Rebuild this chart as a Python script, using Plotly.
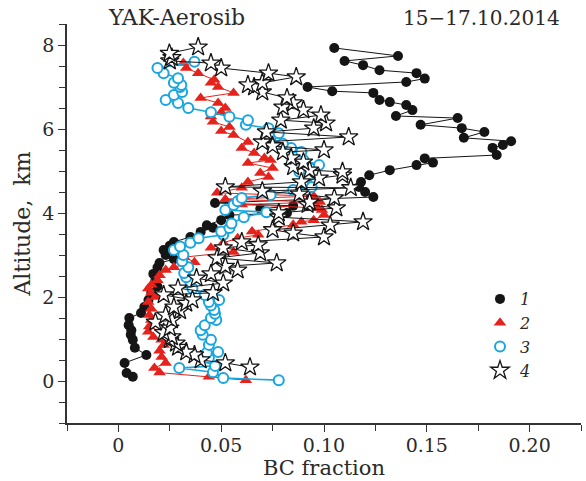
import plotly.graph_objects as go

# Series 1 (black dots): altitude (km), BC fraction
alt1 = [0.10, 0.19, 0.43, 0.62, 0.79, 0.98, 1.10, 1.21, 1.33, 1.50, 1.62, 1.76, 1.93, 2.10, 2.25, 2.40,
        2.55, 2.70, 2.81, 2.90, 3.00, 3.12, 3.22, 3.31, 3.43, 3.55, 3.65, 3.71, 3.83, 3.95, 4.00, 4.10,
        4.17, 4.24, 4.38, 4.50, 4.62, 4.74, 4.90, 5.02, 5.14, 5.20, 5.30, 5.38, 5.55, 5.62, 5.71, 5.79,
        5.93, 6.02, 6.10, 6.26, 6.31, 6.45, 6.57, 6.64, 6.69, 6.86, 6.90, 7.00, 7.12, 7.20, 7.33, 7.40,
        7.52, 7.62, 7.74, 7.93]
bc1 = [0.007, 0.004, 0.003, 0.0136, 0.008, 0.007, 0.006, 0.0063, 0.005, 0.0053, 0.011, 0.0126, 0.0146, 0.016,
       0.019, 0.018, 0.017, 0.019, 0.020, 0.027, 0.023, 0.022, 0.025, 0.027, 0.035, 0.040, 0.046, 0.043,
       0.050, 0.054, 0.082, 0.069, 0.085, 0.047, 0.124, 0.120, 0.117, 0.118, 0.122, 0.132, 0.145, 0.153,
       0.149, 0.184, 0.182, 0.187, 0.191, 0.168, 0.178, 0.167, 0.147, 0.165, 0.135, 0.143, 0.140, 0.132,
       0.127, 0.124, 0.104, 0.092, 0.140, 0.149, 0.145, 0.127, 0.119, 0.110, 0.136, 0.105]

# Series 2 (red triangles)
alt2 = [0.02, 0.10, 0.20, 0.31, 0.43, 0.57, 0.72, 0.86, 0.98, 1.05, 1.17, 1.30, 1.45, 1.57, 1.72, 1.88,
        2.00, 2.10, 2.20, 2.29, 2.40, 2.52, 2.64, 2.71, 2.83, 2.95, 3.07, 3.17, 3.29, 3.40, 3.48, 3.56,
        3.64, 3.72, 3.79, 3.83, 3.95, 4.07, 4.12, 4.20, 4.26, 4.33, 4.40, 4.48, 4.60, 4.74, 4.86, 4.95,
        5.07, 5.19, 5.26, 5.31, 5.43, 5.55, 5.69, 5.86, 5.95, 6.05, 6.17, 6.30, 6.40, 6.50, 6.62, 6.74,
        6.86, 7.00, 7.10, 7.17, 7.33, 7.45, 7.57]
bc2 = [0.062, 0.044, 0.020, 0.0175, 0.023, 0.021, 0.020, 0.022, 0.021, 0.017, 0.0145, 0.015, 0.016, 0.015,
       0.016, 0.0145, 0.018, 0.016, 0.0145, 0.016, 0.019, 0.020, 0.023, 0.027, 0.037, 0.032, 0.056, 0.045,
       0.051, 0.058, 0.068, 0.065, 0.076, 0.085, 0.089, 0.095, 0.100, 0.099, 0.097, 0.060, 0.098, 0.052,
       0.095, 0.048, 0.060, 0.063, 0.073, 0.069, 0.075, 0.063, 0.074, 0.071, 0.066, 0.060, 0.063, 0.056,
       0.050, 0.054, 0.046, 0.045, 0.050, 0.052, 0.0485, 0.040, 0.056, 0.0485, 0.045, 0.0466, 0.0388,
       0.033, 0.0316]

# Series 3 (blue open circles)
alt3 = [0.02, 0.07, 0.21, 0.31, 0.36, 0.55, 0.67, 0.69, 0.86, 0.98, 1.10, 1.21, 1.33, 1.45, 1.50, 1.60,
        1.69, 1.80, 1.88, 1.93, 2.05, 2.20, 2.36, 2.47, 2.57, 2.71, 2.85, 3.00, 3.12, 3.20, 3.29, 3.40,
        3.48, 3.56, 3.64, 3.75, 3.90, 4.02, 4.07, 4.19, 4.28, 4.36, 4.43, 4.55, 4.62, 4.75, 4.87, 4.98,
        5.07, 5.14, 5.26, 5.35, 5.45, 5.55, 5.65, 5.79, 5.90, 6.02, 6.10, 6.21, 6.29, 6.40, 6.50, 6.62,
        6.69, 6.81, 6.88, 7.00, 7.05, 7.10, 7.21, 7.33, 7.45, 7.60]
bc3 = [0.078, 0.051, 0.046, 0.0296, 0.047, 0.044, 0.043, 0.0485, 0.044, 0.045, 0.041, 0.040, 0.042, 0.0476,
       0.045, 0.047, 0.0466, 0.045, 0.044, 0.049, 0.042, 0.036, 0.035, 0.033, 0.032, 0.034, 0.031, 0.0316,
       0.027, 0.030, 0.035, 0.039, 0.051, 0.050, 0.054, 0.055, 0.061, 0.072, 0.052, 0.056, 0.058, 0.060,
       0.074, 0.085, 0.094, 0.090, 0.092, 0.088, 0.093, 0.0976, 0.090, 0.087, 0.089, 0.084, 0.080, 0.074,
       0.078, 0.073, 0.062, 0.063, 0.054, 0.045, 0.034, 0.029, 0.023, 0.027, 0.031, 0.030, 0.0306, 0.027,
       0.029, 0.022, 0.019, 0.037]

# Series 4 (open stars)
alt4 = [0.33, 0.43, 0.50, 0.62, 0.69, 0.80, 0.90, 0.98, 1.05, 1.15, 1.26, 1.40, 1.45, 1.57, 1.67, 1.76,
        1.85, 1.93, 2.05, 2.10, 2.21, 2.33, 2.45, 2.55, 2.64, 2.73, 2.81, 2.93, 3.05, 3.17, 3.24, 3.31,
        3.43, 3.52, 3.60, 3.71, 3.79, 3.90, 4.00, 4.12, 4.20, 4.26, 4.36, 4.45, 4.52, 4.60, 4.62, 4.74,
        4.83, 4.90, 4.98, 5.02, 5.10, 5.21, 5.31, 5.45, 5.50, 5.60, 5.69, 5.81, 5.93, 6.02, 6.14, 6.21,
        6.33, 6.45, 6.52, 6.62, 6.74, 6.88, 7.00, 7.05, 7.10, 7.24, 7.33, 7.45, 7.57, 7.62, 7.70, 7.80,
        7.95]
bc4 = [0.064, 0.052, 0.040, 0.037, 0.033, 0.029, 0.028, 0.025, 0.026, 0.022, 0.025, 0.018, 0.026, 0.023,
       0.030, 0.027, 0.033, 0.036, 0.022, 0.046, 0.029, 0.051, 0.038, 0.045, 0.058, 0.052, 0.077, 0.048,
       0.069, 0.051, 0.068, 0.060, 0.100, 0.085, 0.075, 0.103, 0.119, 0.078, 0.078, 0.106, 0.092, 0.093,
       0.105, 0.088, 0.070, 0.113, 0.052, 0.089, 0.0976, 0.109, 0.109, 0.093, 0.085, 0.090, 0.084, 0.080,
       0.100, 0.075, 0.070, 0.112, 0.072, 0.095, 0.101, 0.079, 0.0985, 0.090, 0.080, 0.085, 0.082, 0.070,
       0.066, 0.063, 0.070, 0.0865, 0.073, 0.050, 0.045, 0.025, 0.026, 0.0248, 0.0388]

names = ["1", "2", "3", "4"]
title_left = "YAK-Aerosib"
title_right = "15\u221217.10.2014"
x_title = "BC fraction"
y_title = "Altitude,  km"
x_tickvals = [0, 0.05, 0.10, 0.15, 0.20]
x_ticktext = ["0", "0.05", "0.10", "0.15", "0.20"]
y_tickvals = [0, 2, 4, 6, 8]

SERIF = "DejaVu Serif"
BLACK = "#151515"
RED = "#e5231d"
BLUE = "#19a6e0"
TXT = "#2a2a2a"

W, H = 586, 481
ML, MR, MT, MB = 67, 5, 24, 58
PW, PH = W - ML - MR, H - MT - MB

styles = [
    dict(line=dict(color=BLACK, width=1),
         marker=dict(symbol="circle", size=10, color=BLACK, line=dict(width=0))),
    dict(line=dict(color=RED, width=1),
         marker=dict(symbol="triangle-up", size=11, color=RED, line=dict(width=0))),
    dict(line=dict(color=BLUE, width=1.6),
         marker=dict(symbol="circle", size=10, color="white", line=dict(color=BLUE, width=2))),
    dict(line=dict(color=BLACK, width=1),
         marker=dict(symbol="star", size=14, color="white", line=dict(color=BLACK, width=1.3))),
]

fig = go.Figure()
data = [(bc1, alt1), (bc2, alt2), (bc3, alt3), (bc4, alt4)]
for (xs, ys), st in zip(data, styles):
    fig.add_trace(go.Scatter(x=xs, y=ys, mode="lines+markers", showlegend=False,
                             line=st["line"], marker=st["marker"]))
# legend entries (markers only)
for nm, st in zip(names, styles):
    fig.add_trace(go.Scatter(x=[None], y=[None], mode="markers", name="<i>%s</i>" % nm,
                             marker=st["marker"]))


def px_x(px):
    return (px - ML) / PW


def px_y(py):
    return 1 - (py - MT) / PH


fig.update_layout(
    width=W, height=H,
    margin=dict(l=ML, r=MR, t=MT, b=MB),
    plot_bgcolor="white", paper_bgcolor="white",
    font=dict(family=SERIF, size=19, color=TXT),
    legend=dict(x=px_x(480), y=px_y(282), xanchor="left", yanchor="top", bgcolor="rgba(0,0,0,0)",
                font=dict(family=SERIF, size=16, color=TXT), itemwidth=30,
                tracegroupgap=0),
    annotations=[
        dict(text=title_left, x=px_x(176), y=px_y(18), xref="paper", yref="paper", showarrow=False,
             xanchor="center", yanchor="middle", font=dict(family=SERIF, size=22, color=TXT)),
        dict(text=title_right, x=px_x(481), y=px_y(18), xref="paper", yref="paper", showarrow=False,
             xanchor="center", yanchor="middle", font=dict(family=SERIF, size=20, color=TXT)),
    ],
)

fig.update_xaxes(range=[-0.025, 0.225], showgrid=False, zeroline=False,
                 showline=True, linecolor="#333", linewidth=1.5, mirror=False,
                 tickvals=x_tickvals, ticktext=x_ticktext, ticks="outside", ticklen=7,
                 tickwidth=1.3, tickcolor="#333", tickfont=dict(size=19), ticklabelstandoff=-3,
                 minor=dict(dtick=0.025, tick0=0, ticks="outside", ticklen=6, tickwidth=1.2, tickcolor="#333"),
                 title=dict(text=x_title, font=dict(family=SERIF, size=21), standoff=6))
fig.update_yaxes(range=[-1, 8.5], showgrid=False, zeroline=False,
                 showline=True, linecolor="#333", linewidth=1.5, mirror=False,
                 tickvals=y_tickvals, ticks="outside", ticklen=7, tickwidth=1.3, tickcolor="#333",
                 tickfont=dict(size=19),
                 minor=dict(dtick=0.5, tick0=0, ticks="outside", ticklen=6, tickwidth=1.2, tickcolor="#333"),
                 title=dict(text=y_title, font=dict(family=SERIF, size=22), standoff=6))

fig.write_html("out.html")
